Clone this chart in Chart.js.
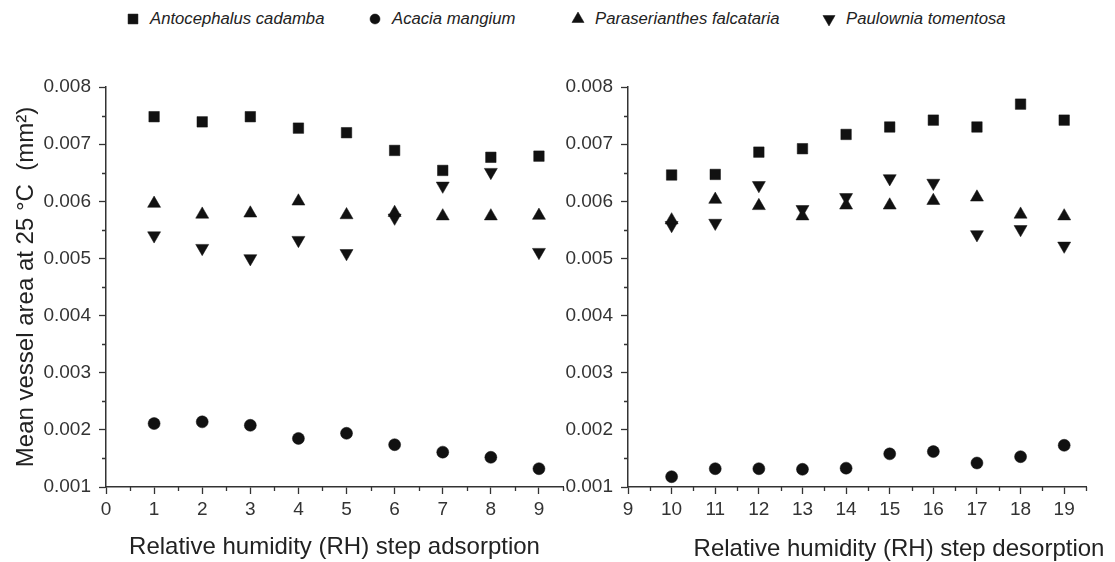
<!DOCTYPE html>
<html>
<head>
<meta charset="utf-8">
<title>Mean vessel area</title>
<script src="https://cdn.jsdelivr.net/npm/chart.js@4.4.1/dist/chart.umd.min.js"></script>
<style>
  html, body { margin: 0; padding: 0; background: #fff; overflow: hidden; }
  body { width: 1115px; height: 562px; position: relative; font-family: "Liberation Sans", Arial, sans-serif; }
  .panel { position: absolute; top: 0; }
  #legend { position: absolute; top: 0; left: 0; width: 1115px; height: 40px; }
  .item { position: absolute; top: 7px; height: 24px; display: flex; align-items: center; }
  .item canvas { width: 18px; height: 18px; margin-right: 8px; }
  .item span { font-style: italic; font-size: 16.7px; color: #222; }
</style>
</head>
<body>
<div id="legend"></div>
<canvas id="adsCanvas" class="panel" width="600" height="562" style="left:0"></canvas>
<canvas id="desCanvas" class="panel" width="575" height="562" style="left:540px"></canvas>
<script>
// species
const species = ["Antocephalus cadamba", "Acacia mangium", "Paraserianthes falcataria", "Paulownia tomentosa"];

// RH steps
const adsSteps = [1, 2, 3, 4, 5, 6, 7, 8, 9];
const desSteps = [10, 11, 12, 13, 14, 15, 16, 17, 18, 19];

// mean vessel area (mm2), adsorption
const cadambaAds    = [0.00748, 0.00739, 0.00748, 0.00728, 0.00720, 0.00689, 0.00654, 0.00677, 0.00679];
const mangiumAds    = [0.00211, 0.00214, 0.00208, 0.00185, 0.00194, 0.00174, 0.00161, 0.00152, 0.00132];
const falcatariaAds = [0.00596, 0.00577, 0.00579, 0.00600, 0.00576, 0.00580, 0.00574, 0.00574, 0.00575];
const tomentosaAds  = [0.00540, 0.00518, 0.00500, 0.00532, 0.00509, 0.00571, 0.00627, 0.00651, 0.00511];

// mean vessel area (mm2), desorption
const cadambaDes    = [0.00646, 0.00647, 0.00686, 0.00692, 0.00717, 0.00730, 0.00742, 0.00730, 0.00770, 0.00742];
const mangiumDes    = [0.00118, 0.00132, 0.00132, 0.00131, 0.00133, 0.00158, 0.00162, 0.00142, 0.00153, 0.00173];
const falcatariaDes = [0.00567, 0.00603, 0.00592, 0.00574, 0.00593, 0.00593, 0.00601, 0.00607, 0.00577, 0.00574];
const tomentosaDes  = [0.00558, 0.00562, 0.00628, 0.00586, 0.00607, 0.00640, 0.00632, 0.00542, 0.00551, 0.00522];

const yTitle = "Mean vessel area at 25 °C  (mm²)";
const xTitles = ["Relative humidity (RH) step adsorption", "Relative humidity (RH) step desorption"];

const ink = "#111";
const axisColor = "#333";
const fontFamily = "'Liberation Sans', Arial, sans-serif";
const titleSize = 24;

const markers = [
  { pointStyle: "rect", radius: 7.4, rotation: 0 },
  { pointStyle: "circle", radius: 6, rotation: 0 },
  { pointStyle: "triangle", radius: 7.5, rotation: 0 },
  { pointStyle: "triangle", radius: 7.5, rotation: 180 }
];

function toPoints(xs, ys) {
  return xs.map((x, i) => ({ x: x, y: ys[i] }));
}

function makeDatasets(xs, series) {
  return series.map((ys, i) => ({
    label: species[i],
    data: toPoints(xs, ys),
    pointStyle: markers[i].pointStyle,
    pointRotation: markers[i].rotation,
    pointRadius: markers[i].radius,
    pointBackgroundColor: ink,
    pointBorderColor: ink,
    pointBorderWidth: 0.5,
    showLine: false
  }));
}

// short ticks at half steps
const minorTicks = {
  id: "minorTicks",
  afterDraw(chart) {
    const ctx = chart.ctx;
    const xs = chart.scales.x, ys = chart.scales.y;
    const bottom = chart.chartArea.bottom, left = chart.chartArea.left;
    ctx.save();
    ctx.strokeStyle = axisColor;
    ctx.lineWidth = 1.3;
    ctx.beginPath();
    for (let v = xs.min + 0.5; v <= xs.max + 1e-9; v += 1) {
      const px = Math.round(xs.getPixelForValue(v)) + 0.5;
      ctx.moveTo(px, bottom);
      ctx.lineTo(px, bottom + 4);
    }
    for (let k = 0; k < 7; k++) {
      const py = Math.round(ys.getPixelForValue(0.0015 + k * 0.001)) + 0.5;
      ctx.moveTo(left, py);
      ctx.lineTo(left - 4, py);
    }
    ctx.stroke();
    ctx.restore();
  }
};

// desorption caption sits a bit right of the axis centre
const shiftedTitle = {
  id: "shiftedTitle",
  afterDraw(chart, args, opts) {
    if (!opts.text) return;
    const ctx = chart.ctx;
    const a = chart.chartArea;
    ctx.save();
    ctx.font = titleSize + "px " + fontFamily;
    ctx.fillStyle = "#222";
    ctx.textAlign = "center";
    ctx.textBaseline = "middle";
    ctx.fillText(opts.text, (a.left + a.right) / 2 + opts.shift, opts.y);
    ctx.restore();
  }
};

function panelOptions(cfg) {
  return {
    responsive: false,
    animation: false,
    layout: { padding: { top: 87, right: cfg.padRight, bottom: 0, left: 0 } },
    plugins: {
      legend: { display: false },
      tooltip: { enabled: false },
      shiftedTitle: cfg.shifted || {}
    },
    scales: {
      x: {
        type: "linear",
        min: cfg.xMin,
        max: cfg.xMax,
        afterFit: s => { s.height = 75; },
        grid: { drawOnChartArea: false, drawTicks: true, tickLength: 7, tickColor: axisColor, tickWidth: 1.3 },
        border: { display: true, color: axisColor, width: 1.5 },
        ticks: {
          stepSize: 1,
          includeBounds: false,
          padding: 4,
          color: "#333",
          font: { family: fontFamily, size: 19 }
        },
        title: {
          display: cfg.xTitle !== "",
          text: cfg.xTitle,
          color: "#222",
          font: { family: fontFamily, size: titleSize },
          padding: { top: 0, bottom: 0 }
        }
      },
      y: {
        type: "linear",
        min: 0.001,
        max: 0.008,
        afterFit: s => { s.width = cfg.yWidth; },
        grid: { drawOnChartArea: false, drawTicks: true, tickLength: 7, tickColor: axisColor, tickWidth: 1.3 },
        border: { display: true, color: axisColor, width: 1.5 },
        ticks: {
          stepSize: 0.001,
          padding: 8,
          color: "#333",
          font: { family: fontFamily, size: 19 },
          callback: v => v.toFixed(3)
        },
        title: {
          display: cfg.yTitle !== "",
          text: cfg.yTitle,
          color: "#222",
          font: { family: fontFamily, size: titleSize },
          padding: { top: 12, bottom: 0 }
        }
      }
    }
  };
}

new Chart(document.getElementById("adsCanvas"), {
  type: "scatter",
  data: { datasets: makeDatasets(adsSteps, [cadambaAds, mangiumAds, falcatariaAds, tomentosaAds]) },
  options: panelOptions({ xMin: 0, xMax: 9.5, padRight: 37, yWidth: 106, xTitle: xTitles[0], yTitle: yTitle }),
  plugins: [minorTicks]
});

new Chart(document.getElementById("desCanvas"), {
  type: "scatter",
  data: { datasets: makeDatasets(desSteps, [cadambaDes, mangiumDes, falcatariaDes, tomentosaDes]) },
  options: panelOptions({
    xMin: 9, xMax: 19.5, padRight: 29, yWidth: 88, xTitle: "", yTitle: "",
    shifted: { text: xTitles[1], shift: 42, y: 549 }
  }),
  plugins: [minorTicks, shiftedTitle]
});

// legend row across both panels, markers drawn with the same point styles
const legendLeft = [124, 366, 569, 820];
const legend = document.getElementById("legend");
const legendRadius = [7, 5, 7, 7];
species.forEach((name, i) => {
  const item = document.createElement("div");
  item.className = "item";
  item.style.left = legendLeft[i] + "px";
  const c = document.createElement("canvas");
  c.width = 18; c.height = 18;
  const ctx = c.getContext("2d");
  ctx.fillStyle = ink;
  ctx.strokeStyle = ink;
  ctx.lineWidth = 0.5;
  Chart.helpers.drawPoint(ctx, { pointStyle: markers[i].pointStyle, rotation: markers[i].rotation, radius: legendRadius[i], borderWidth: 0.5 }, 9, 9);
  const t = document.createElement("span");
  t.textContent = name;
  item.appendChild(c);
  item.appendChild(t);
  legend.appendChild(item);
});
</script>
</body>
</html>
